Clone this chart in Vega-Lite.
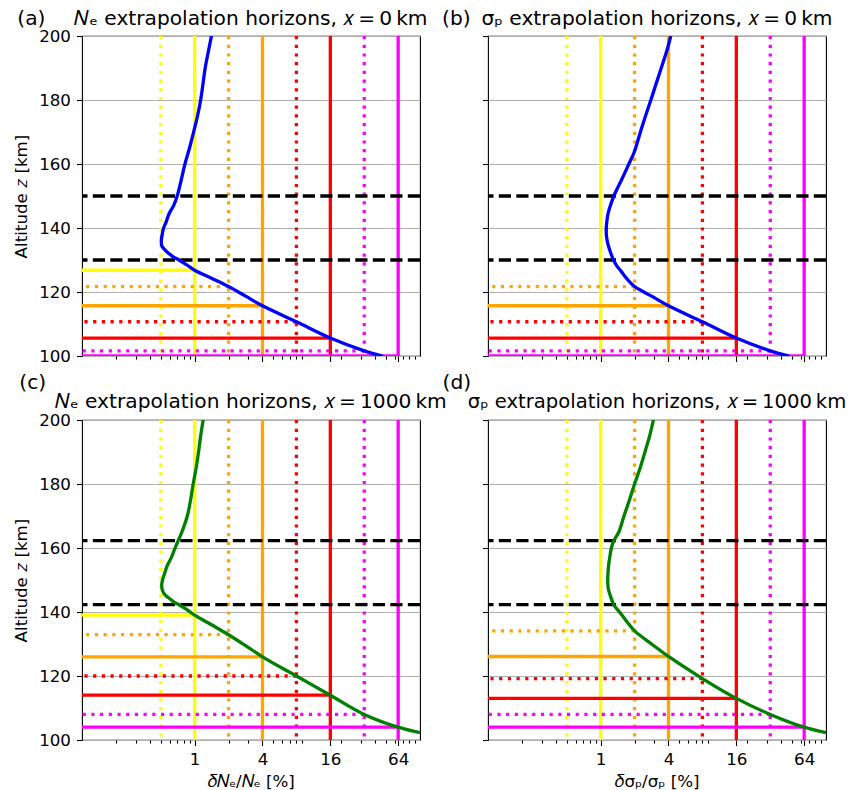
{
  "$schema": "https://vega.github.io/schema/vega-lite/v6.json",
  "autosize": {"type": "pad"},
  "padding": {"left": 13, "top": 8, "right": 0, "bottom": 0},
  "background": "white",
  "config": {
    "font": "DejaVu Sans",
    "view": {"stroke": "black", "strokeWidth": 1.1},
    "text": {"fontSize": 20.2, "baseline": "alphabetic", "color": "black"},
    "axis": {
      "domain": false,
      "tickColor": "black",
      "tickSize": 5.5,
      "tickWidth": 1.1,
      "labelFontSize": 16.7,
      "labelColor": "black",
      "labelPadding": 6,
      "labelOverlap": false,
      "labelBound": false,
      "labelFlush": false,
      "titleFontSize": 16.7,
      "titleFontWeight": "normal",
      "titleColor": "black",
      "titlePadding": 5,
      "gridColor": "#b0b0b0",
      "gridWidth": 1.1,
      "gridOpacity": 1
    },
    "axisY": {"titlePadding": 8},
    "axisX": {"labelPadding": 6, "titlePadding": 5}
  },
  "datasets": {
    "one": [{}],
    "vlines": [{"v": 0.5}, {"v": 1}, {"v": 2}, {"v": 4}, {"v": 8}, {"v": 16}, {"v": 32}, {"v": 64}],
    "hA": [{"v": 1, "z": 126.8}, {"v": 2, "z": 121.7}, {"v": 4, "z": 115.7}, {"v": 8, "z": 110.7}, {"v": 16, "z": 105.6}, {"v": 32, "z": 101.6}, {"v": 64, "z": 100}],
    "hB": [{"v": 2, "z": 121.7}, {"v": 4, "z": 115.7}, {"v": 8, "z": 110.7}, {"v": 16, "z": 105.6}, {"v": 32, "z": 101.6}, {"v": 64, "z": 100}],
    "hC": [{"v": 1, "z": 139.0}, {"v": 2, "z": 132.9}, {"v": 4, "z": 126.0}, {"v": 8, "z": 120.0}, {"v": 16, "z": 114.0}, {"v": 32, "z": 108.0}, {"v": 64, "z": 104.0}],
    "hD": [{"v": 2, "z": 134.1}, {"v": 4, "z": 126.1}, {"v": 8, "z": 119.2}, {"v": 16, "z": 113.0}, {"v": 32, "z": 108.0}, {"v": 64, "z": 104.0}],
    "dAB": [{"z": 130}, {"z": 150}],
    "dCD": [{"z": 142.3}, {"z": 162.3}],
    "cA": [
      {"z": 200, "v": 1.41}, {"z": 195, "v": 1.32}, {"z": 190, "v": 1.24}, {"z": 185, "v": 1.185}, {"z": 180, "v": 1.13},
      {"z": 175, "v": 1.06}, {"z": 171.3, "v": 1.0}, {"z": 165, "v": 0.9}, {"z": 160, "v": 0.82}, {"z": 155, "v": 0.76},
      {"z": 150, "v": 0.70}, {"z": 147, "v": 0.65}, {"z": 144.3, "v": 0.59}, {"z": 142, "v": 0.56}, {"z": 140, "v": 0.53},
      {"z": 138, "v": 0.515}, {"z": 136, "v": 0.506}, {"z": 134.5, "v": 0.51}, {"z": 133.3, "v": 0.54}, {"z": 132, "v": 0.59},
      {"z": 131, "v": 0.645}, {"z": 130, "v": 0.725}, {"z": 128.5, "v": 0.85}, {"z": 126.8, "v": 1.0}, {"z": 124.3, "v": 1.41},
      {"z": 121.7, "v": 2.0}, {"z": 118.7, "v": 2.83}, {"z": 115.7, "v": 4}, {"z": 110.7, "v": 8}, {"z": 105.6, "v": 16},
      {"z": 101.6, "v": 32}, {"z": 100, "v": 46.5}
    ],
    "cB": [
      {"z": 200, "v": 4.19}, {"z": 195.3, "v": 3.86}, {"z": 191.1, "v": 3.53}, {"z": 185, "v": 3.1}, {"z": 180, "v": 2.79},
      {"z": 175, "v": 2.5}, {"z": 170.4, "v": 2.27}, {"z": 163.6, "v": 1.98}, {"z": 160, "v": 1.78}, {"z": 155, "v": 1.53},
      {"z": 150, "v": 1.31}, {"z": 147, "v": 1.22}, {"z": 144.3, "v": 1.16}, {"z": 141.5, "v": 1.13}, {"z": 139, "v": 1.12},
      {"z": 137, "v": 1.13}, {"z": 135, "v": 1.16}, {"z": 132.5, "v": 1.22}, {"z": 130, "v": 1.30}, {"z": 128, "v": 1.4},
      {"z": 126.6, "v": 1.51}, {"z": 124, "v": 1.72}, {"z": 121.7, "v": 2.0}, {"z": 118.7, "v": 2.83}, {"z": 115.7, "v": 4},
      {"z": 110.7, "v": 8}, {"z": 105.6, "v": 16}, {"z": 101.6, "v": 32}, {"z": 100, "v": 47}
    ],
    "cC": [
      {"z": 200, "v": 1.19}, {"z": 195, "v": 1.13}, {"z": 190.8, "v": 1.09}, {"z": 185, "v": 1.03}, {"z": 182.5, "v": 1.0},
      {"z": 180, "v": 0.97}, {"z": 175, "v": 0.92}, {"z": 170, "v": 0.86}, {"z": 165, "v": 0.77}, {"z": 162.1, "v": 0.71},
      {"z": 160, "v": 0.67}, {"z": 157, "v": 0.62}, {"z": 154.4, "v": 0.57}, {"z": 152, "v": 0.54}, {"z": 150.2, "v": 0.52},
      {"z": 148.5, "v": 0.51}, {"z": 147, "v": 0.515}, {"z": 146, "v": 0.53}, {"z": 145, "v": 0.56}, {"z": 144, "v": 0.61},
      {"z": 143, "v": 0.66}, {"z": 142.2, "v": 0.73}, {"z": 140.7, "v": 0.86}, {"z": 139, "v": 1.0}, {"z": 136, "v": 1.41},
      {"z": 132.9, "v": 2.0}, {"z": 129.5, "v": 2.83}, {"z": 126, "v": 4}, {"z": 120, "v": 8}, {"z": 114, "v": 16},
      {"z": 108, "v": 32}, {"z": 104, "v": 64}, {"z": 102.3, "v": 100}
    ],
    "cD": [
      {"z": 200, "v": 2.94}, {"z": 195, "v": 2.72}, {"z": 190.8, "v": 2.51}, {"z": 185, "v": 2.24}, {"z": 180, "v": 2.0},
      {"z": 175, "v": 1.8}, {"z": 170, "v": 1.61}, {"z": 165, "v": 1.45}, {"z": 162.1, "v": 1.3}, {"z": 160, "v": 1.245},
      {"z": 157.6, "v": 1.21}, {"z": 155, "v": 1.18}, {"z": 152, "v": 1.16}, {"z": 149.5, "v": 1.155}, {"z": 147.2, "v": 1.17},
      {"z": 145, "v": 1.22}, {"z": 142.2, "v": 1.31}, {"z": 140, "v": 1.47}, {"z": 138.8, "v": 1.56}, {"z": 136.5, "v": 1.75},
      {"z": 134.1, "v": 2.0}, {"z": 130, "v": 2.83}, {"z": 126.1, "v": 4}, {"z": 119.2, "v": 8}, {"z": 113, "v": 16},
      {"z": 108, "v": 32}, {"z": 104, "v": 64}, {"z": 102.3, "v": 100}
    ]
  },
  "columns": 2,
  "bounds": "flush",
  "spacing": {"row": 64, "column": 68},
  "concat": [
    {
      "width": 338, "height": 320,
      "layer": [
        {"data": {"name": "vlines"}, "mark": {"type": "rule", "strokeWidth": 3.3},
         "encoding": {
           "x": {"field": "v", "type": "quantitative", "scale": {"type": "log", "domain": [0.1, 100], "nice": false},
                 "axis": {"values": [0.2, 0.3, 0.4, 0.5, 0.6, 0.7, 0.8, 0.9, 1, 2, 3, 4, 5, 6, 7, 8, 9, 16, 20, 30, 40, 50, 60, 64, 70, 80, 90],
                          "tickSize": {"condition": {"test": "datum.value == 1 || datum.value == 4 || datum.value == 16 || datum.value == 64", "value": 5.5}, "value": 3.1},
                          "labels": false, "title": null, "grid": false}},
           "color": {"field": "v", "type": "ordinal", "scale": {"domain": [0.5, 1, 2, 4, 8, 16, 32, 64], "range": ["#ffff00", "#ffff00", "#ffa500", "#ffa500", "#ff0000", "#ff0000", "#ff00ff", "#ff00ff"]}, "legend": null},
           "strokeDash": {"field": "v", "type": "ordinal", "scale": {"domain": [0.5, 1, 2, 4, 8, 16, 32, 64], "range": [[3.2, 5.5], [1, 0], [3.2, 5.5], [1, 0], [3.2, 5.5], [1, 0], [3.2, 5.5], [1, 0]]}, "legend": null}
         }},
        {"data": {"name": "hA"}, "mark": {"type": "rule", "strokeWidth": 3.3, "clip": true},
         "encoding": {
           "x": {"field": "v", "type": "quantitative"},
           "x2": {"datum": 0.1},
           "y": {"field": "z", "type": "quantitative", "scale": {"domain": [100, 200], "nice": false, "zero": false},
                 "axis": {"values": [100, 120, 140, 160, 180, 200], "grid": true, "title": "Altitude 𝑧 [km]"}},
           "color": {"field": "v", "type": "ordinal", "legend": null},
           "strokeDash": {"field": "v", "type": "ordinal", "legend": null}
         }},
        {"data": {"name": "dAB"}, "mark": {"type": "rule", "strokeWidth": 3.3, "color": "black", "strokeDash": [12.2, 5.3]},
         "encoding": {"y": {"field": "z", "type": "quantitative"}}},
        {"data": {"name": "cA"}, "mark": {"type": "line", "strokeWidth": 3.3, "color": "#0000ff", "clip": true, "interpolate": "catmull-rom"},
         "encoding": {
           "x": {"field": "v", "type": "quantitative"},
           "y": {"field": "z", "type": "quantitative"},
           "order": {"field": "z", "type": "quantitative"}
         }},
        {"data": {"name": "one"}, "mark": {"type": "text", "text": "(a)", "align": "left"},
         "encoding": {"x": {"datum": 0.02669}, "y": {"datum": 203.44}}},
        {"data": {"name": "one"}, "mark": {"type": "text", "text": "𝑁ₑ extrapolation horizons, 𝑥\u2009=\u20090\u2009km", "align": "center"},
         "encoding": {"x": {"datum": 3.1623}, "y": {"datum": 203.44}}}
      ]
    },
    {
      "width": 338, "height": 320,
      "layer": [
        {"data": {"name": "vlines"}, "mark": {"type": "rule", "strokeWidth": 3.3},
         "encoding": {
           "x": {"field": "v", "type": "quantitative", "scale": {"type": "log", "domain": [0.1, 100], "nice": false},
                 "axis": {"values": [0.2, 0.3, 0.4, 0.5, 0.6, 0.7, 0.8, 0.9, 1, 2, 3, 4, 5, 6, 7, 8, 9, 16, 20, 30, 40, 50, 60, 64, 70, 80, 90],
                          "tickSize": {"condition": {"test": "datum.value == 1 || datum.value == 4 || datum.value == 16 || datum.value == 64", "value": 5.5}, "value": 3.1},
                          "labels": false, "title": null, "grid": false}},
           "color": {"field": "v", "type": "ordinal", "scale": {"domain": [0.5, 1, 2, 4, 8, 16, 32, 64], "range": ["#ffff00", "#ffff00", "#ffa500", "#ffa500", "#ff0000", "#ff0000", "#ff00ff", "#ff00ff"]}, "legend": null},
           "strokeDash": {"field": "v", "type": "ordinal", "scale": {"domain": [0.5, 1, 2, 4, 8, 16, 32, 64], "range": [[3.2, 5.5], [1, 0], [3.2, 5.5], [1, 0], [3.2, 5.5], [1, 0], [3.2, 5.5], [1, 0]]}, "legend": null}
         }},
        {"data": {"name": "hB"}, "mark": {"type": "rule", "strokeWidth": 3.3, "clip": true},
         "encoding": {
           "x": {"field": "v", "type": "quantitative"},
           "x2": {"datum": 0.1},
           "y": {"field": "z", "type": "quantitative", "scale": {"domain": [100, 200], "nice": false, "zero": false},
                 "axis": {"values": [100, 120, 140, 160, 180, 200], "grid": true, "labels": false, "title": null}},
           "color": {"field": "v", "type": "ordinal", "legend": null},
           "strokeDash": {"field": "v", "type": "ordinal", "legend": null}
         }},
        {"data": {"name": "dAB"}, "mark": {"type": "rule", "strokeWidth": 3.3, "color": "black", "strokeDash": [12.2, 5.3]},
         "encoding": {"y": {"field": "z", "type": "quantitative"}}},
        {"data": {"name": "cB"}, "mark": {"type": "line", "strokeWidth": 3.3, "color": "#0000ff", "clip": true, "interpolate": "catmull-rom"},
         "encoding": {
           "x": {"field": "v", "type": "quantitative"},
           "y": {"field": "z", "type": "quantitative"},
           "order": {"field": "z", "type": "quantitative"}
         }},
        {"data": {"name": "one"}, "mark": {"type": "text", "text": "(b)", "align": "left"},
         "encoding": {"x": {"datum": 0.03915}, "y": {"datum": 203.44}}},
        {"data": {"name": "one"}, "mark": {"type": "text", "text": "σₚ extrapolation horizons, 𝑥\u2009=\u20090\u2009km", "align": "center"},
         "encoding": {"x": {"datum": 3.1623}, "y": {"datum": 203.44}}}
      ]
    },
    {
      "width": 338, "height": 320,
      "layer": [
        {"data": {"name": "vlines"}, "mark": {"type": "rule", "strokeWidth": 3.3},
         "encoding": {
           "x": {"field": "v", "type": "quantitative", "scale": {"type": "log", "domain": [0.1, 100], "nice": false},
                 "axis": {"values": [0.2, 0.3, 0.4, 0.5, 0.6, 0.7, 0.8, 0.9, 1, 2, 3, 4, 5, 6, 7, 8, 9, 16, 20, 30, 40, 50, 60, 64, 70, 80, 90],
                          "tickSize": {"condition": {"test": "datum.value == 1 || datum.value == 4 || datum.value == 16 || datum.value == 64", "value": 5.5}, "value": 3.1},
                          "labelExpr": "datum.value == 1 || datum.value == 4 || datum.value == 16 || datum.value == 64 ? format(datum.value, 'd') : ''",
                          "title": "𝛿𝑁ₑ/𝑁ₑ [%]", "grid": false}},
           "color": {"field": "v", "type": "ordinal", "scale": {"domain": [0.5, 1, 2, 4, 8, 16, 32, 64], "range": ["#ffff00", "#ffff00", "#ffa500", "#ffa500", "#ff0000", "#ff0000", "#ff00ff", "#ff00ff"]}, "legend": null},
           "strokeDash": {"field": "v", "type": "ordinal", "scale": {"domain": [0.5, 1, 2, 4, 8, 16, 32, 64], "range": [[3.2, 5.5], [1, 0], [3.2, 5.5], [1, 0], [3.2, 5.5], [1, 0], [3.2, 5.5], [1, 0]]}, "legend": null}
         }},
        {"data": {"name": "hC"}, "mark": {"type": "rule", "strokeWidth": 3.3, "clip": true},
         "encoding": {
           "x": {"field": "v", "type": "quantitative"},
           "x2": {"datum": 0.1},
           "y": {"field": "z", "type": "quantitative", "scale": {"domain": [100, 200], "nice": false, "zero": false},
                 "axis": {"values": [100, 120, 140, 160, 180, 200], "grid": true, "title": "Altitude 𝑧 [km]"}},
           "color": {"field": "v", "type": "ordinal", "legend": null},
           "strokeDash": {"field": "v", "type": "ordinal", "legend": null}
         }},
        {"data": {"name": "dCD"}, "mark": {"type": "rule", "strokeWidth": 3.3, "color": "black", "strokeDash": [12.2, 5.3]},
         "encoding": {"y": {"field": "z", "type": "quantitative"}}},
        {"data": {"name": "cC"}, "mark": {"type": "line", "strokeWidth": 3.3, "color": "#008000", "clip": true, "interpolate": "catmull-rom"},
         "encoding": {
           "x": {"field": "v", "type": "quantitative"},
           "y": {"field": "z", "type": "quantitative"},
           "order": {"field": "z", "type": "quantitative"}
         }},
        {"data": {"name": "one"}, "mark": {"type": "text", "text": "(c)", "align": "left"},
         "encoding": {"x": {"datum": 0.0278}, "y": {"datum": 209.6}}},
        {"data": {"name": "one"}, "mark": {"type": "text", "text": "𝑁ₑ extrapolation horizons, 𝑥\u2009=\u20091000\u2009km", "align": "center"},
         "encoding": {"x": {"datum": 3.1623}, "y": {"datum": 203.84}}}
      ]
    },
    {
      "width": 338, "height": 320,
      "layer": [
        {"data": {"name": "vlines"}, "mark": {"type": "rule", "strokeWidth": 3.3},
         "encoding": {
           "x": {"field": "v", "type": "quantitative", "scale": {"type": "log", "domain": [0.1, 100], "nice": false},
                 "axis": {"values": [0.2, 0.3, 0.4, 0.5, 0.6, 0.7, 0.8, 0.9, 1, 2, 3, 4, 5, 6, 7, 8, 9, 16, 20, 30, 40, 50, 60, 64, 70, 80, 90],
                          "tickSize": {"condition": {"test": "datum.value == 1 || datum.value == 4 || datum.value == 16 || datum.value == 64", "value": 5.5}, "value": 3.1},
                          "labelExpr": "datum.value == 1 || datum.value == 4 || datum.value == 16 || datum.value == 64 ? format(datum.value, 'd') : ''",
                          "title": "𝛿σₚ/σₚ [%]", "grid": false}},
           "color": {"field": "v", "type": "ordinal", "scale": {"domain": [0.5, 1, 2, 4, 8, 16, 32, 64], "range": ["#ffff00", "#ffff00", "#ffa500", "#ffa500", "#ff0000", "#ff0000", "#ff00ff", "#ff00ff"]}, "legend": null},
           "strokeDash": {"field": "v", "type": "ordinal", "scale": {"domain": [0.5, 1, 2, 4, 8, 16, 32, 64], "range": [[3.2, 5.5], [1, 0], [3.2, 5.5], [1, 0], [3.2, 5.5], [1, 0], [3.2, 5.5], [1, 0]]}, "legend": null}
         }},
        {"data": {"name": "hD"}, "mark": {"type": "rule", "strokeWidth": 3.3, "clip": true},
         "encoding": {
           "x": {"field": "v", "type": "quantitative"},
           "x2": {"datum": 0.1},
           "y": {"field": "z", "type": "quantitative", "scale": {"domain": [100, 200], "nice": false, "zero": false},
                 "axis": {"values": [100, 120, 140, 160, 180, 200], "grid": true, "labels": false, "title": null}},
           "color": {"field": "v", "type": "ordinal", "legend": null},
           "strokeDash": {"field": "v", "type": "ordinal", "legend": null}
         }},
        {"data": {"name": "dCD"}, "mark": {"type": "rule", "strokeWidth": 3.3, "color": "black", "strokeDash": [12.2, 5.3]},
         "encoding": {"y": {"field": "z", "type": "quantitative"}}},
        {"data": {"name": "cD"}, "mark": {"type": "line", "strokeWidth": 3.3, "color": "#008000", "clip": true, "interpolate": "catmull-rom"},
         "encoding": {
           "x": {"field": "v", "type": "quantitative"},
           "y": {"field": "z", "type": "quantitative"},
           "order": {"field": "z", "type": "quantitative"}
         }},
        {"data": {"name": "one"}, "mark": {"type": "text", "text": "(d)", "align": "left"},
         "encoding": {"x": {"datum": 0.03956}, "y": {"datum": 209.6}}},
        {"data": {"name": "one"}, "mark": {"type": "text", "text": "σₚ extrapolation horizons, 𝑥\u2009=\u20091000\u2009km", "align": "center", "fontSize": 19.6},
         "encoding": {"x": {"datum": 3.1623}, "y": {"datum": 203.84}}}
      ]
    }
  ]
}
